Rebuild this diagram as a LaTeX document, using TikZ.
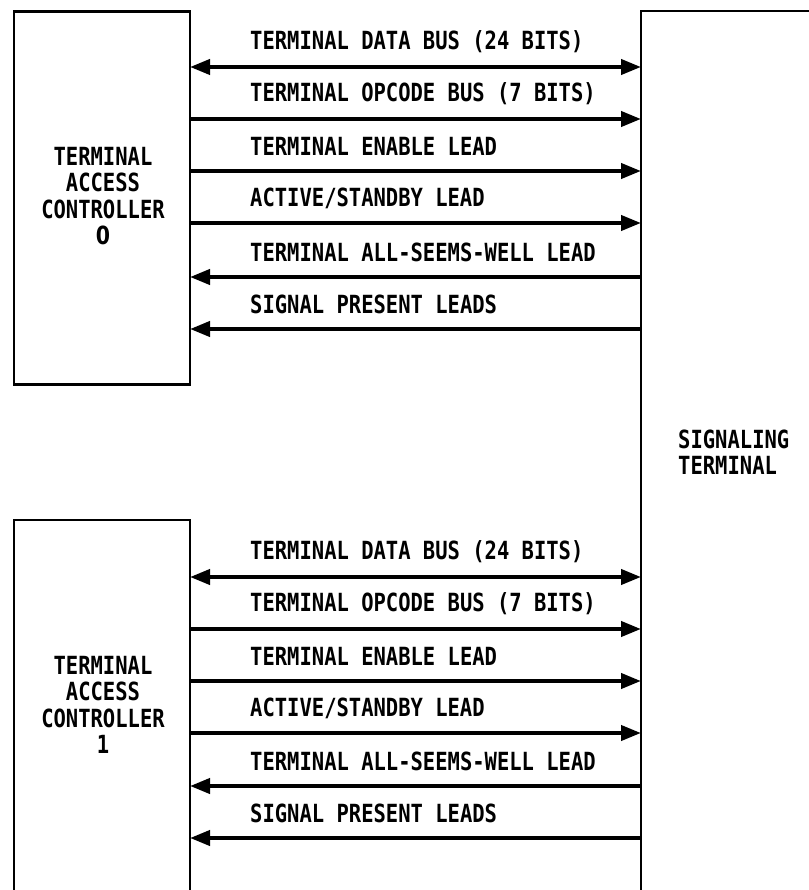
\documentclass[tikz,border=0pt]{standalone}
\usepackage{fontspec}
\setmainfont{DejaVu Sans Mono}[FakeStretch=0.82,BoldFont={DejaVu Sans Mono Bold}]
\newfontfamily\plainzero{DejaVu Sans}[FakeStretch=0.82,BoldFont={DejaVu Sans Bold}]
\usetikzlibrary{arrows.meta}
\begin{document}
\begin{tikzpicture}[x=1pt,y=-1pt,
  boxline/.style={line width=2.2pt},
  sig/.style={line width=4pt},
  tip/.style={-{Triangle[length=20pt,width=15pt]}},
  lbl/.style={anchor=west,inner sep=0pt,font=\fontsize{25}{26}\selectfont\bfseries},
  blbl/.style={align=center,inner sep=0pt,font=\fontsize{25}{26.5}\selectfont\bfseries}]
\useasboundingbox (0,0) rectangle (808,890);
% boxes
\node[draw,boxline,minimum width=176pt,minimum height=373pt,inner sep=0pt] (tac0) at (102,198) {};
\node[blbl] (tac0l) at (103,196) {TERMINAL\\ACCESS\\CONTROLLER\\{\plainzero 0}};
\coordinate (tac1tl) at (14,520);
\coordinate (tac1tr) at (190,520);
\coordinate (tac1bl) at (14,892);
\coordinate (tac1br) at (190,892);
\draw[boxline] (tac1bl) -- (tac1tl) -- (tac1tr) -- (tac1br);
\node[blbl] (tac1l) at (103,705) {TERMINAL\\ACCESS\\CONTROLLER\\1};
\coordinate (sttl) at (641,11);
\coordinate (sttr) at (810,11);
\coordinate (stbl) at (641,892);
\draw[boxline] (sttr) -- (sttl) -- (stbl);
\node[lbl,align=left] (stl) at (678,452) {SIGNALING\\TERMINAL};
% signal rows
\foreach \yy/\kind/\txt/\nm in {
  67/both/{TERMINAL DATA BUS (24 BITS)}/a0,
  119/right/{TERMINAL OPCODE BUS (7 BITS)}/b0,
  171/right/{TERMINAL ENABLE LEAD}/c0,
  223/right/{ACTIVE/STANDBY LEAD}/d0,
  277/left/{TERMINAL ALL-SEEMS-WELL LEAD}/e0,
  329/left/{SIGNAL PRESENT LEADS}/f0,
  577/both/{TERMINAL DATA BUS (24 BITS)}/a1,
  629/right/{TERMINAL OPCODE BUS (7 BITS)}/b1,
  681/right/{TERMINAL ENABLE LEAD}/c1,
  733/right/{ACTIVE/STANDBY LEAD}/d1,
  786/left/{TERMINAL ALL-SEEMS-WELL LEAD}/e1,
  838/left/{SIGNAL PRESENT LEADS}/f1}{
  \coordinate (L\nm) at (190,\yy);
  \coordinate (R\nm) at (641,\yy);
  \node[lbl] (t\nm) at (250,\yy-25) {\txt};
  \ifnum\pdfstrcmp{\kind}{both}=0
    \draw[sig,{Triangle[length=20pt,width=15pt]}-{Triangle[length=20pt,width=15pt]}] (L\nm) -- (R\nm);
  \else\ifnum\pdfstrcmp{\kind}{right}=0
    \draw[sig,tip] (L\nm) -- (R\nm);
  \else
    \draw[sig,tip] (R\nm) -- (L\nm);
  \fi\fi
}
\end{tikzpicture}
\end{document}
